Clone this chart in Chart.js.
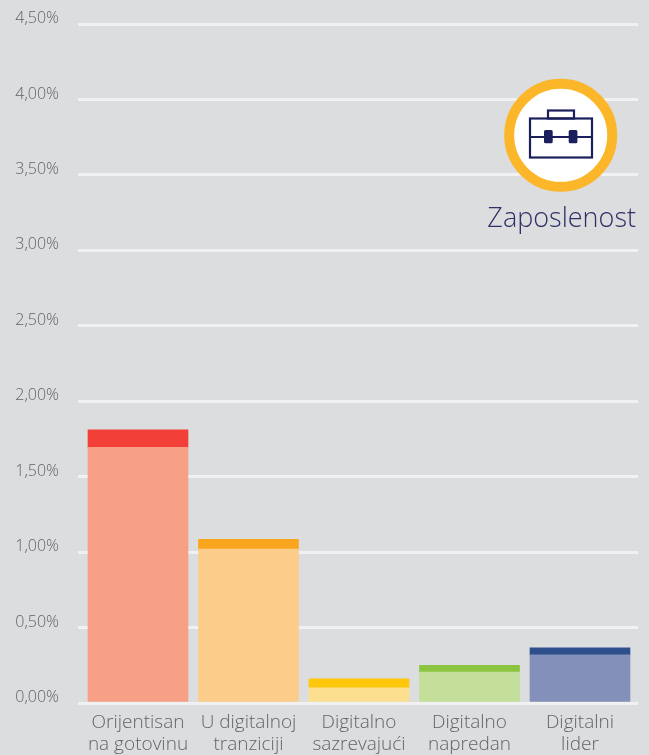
<!DOCTYPE html>
<html><head><meta charset="utf-8">
<style>html,body{margin:0;padding:0;background:#dcddde}canvas{display:block}</style>
<script src="https://cdn.jsdelivr.net/npm/chart.js@4"></script></head>
<body><div style="width:649px;height:755px"><canvas id="c"></canvas></div>
<script>
const categories=[["Orijentisan","na gotovinu"],["U digitalnoj","tranziciji"],["Digitalno","sazrevajući"],["Digitalno","napredan"],["Digitalni","lider"]];
const baseValues=[1.695,1.02,0.10,0.205,0.32];
const capValues=[0.115,0.065,0.06,0.045,0.045];
const baseColors=["#f7a085","#fccd8a","#fddf90","#c4df9a","#8390b9"];
const capColors=["#f23f37","#f9a51d","#fec70b","#8bc53f","#2d4f8b"];
const yTicks=[0,0.5,1,1.5,2,2.5,3,3.5,4,4.5];
const badgeTitle="Zaposlenost";
const FONT='"Open Sans"';
const noPad=s=>{s.paddingTop=0;s.paddingBottom=0;s.paddingLeft=0;s.paddingRight=0};
const badge={id:'badge',afterDraw(ch){const g=ch.ctx;g.save();
 const cx=560.7,cy=135.3;
 g.beginPath();g.arc(cx,cy,51.5,0,Math.PI*2);g.fillStyle='#fff';g.fill();g.lineWidth=10;g.strokeStyle='#fbb62a';g.stroke();
 g.strokeStyle='#1b1f5c';g.lineWidth=2.2;
 g.strokeRect(530,118.5,62,39);g.strokeRect(548,110.5,26,8);
 g.beginPath();g.moveTo(530,137);g.lineTo(592,137);g.stroke();
 g.fillStyle='#1b1f5c';
 g.beginPath();g.roundRect(544,130,8.7,13.3,1.5);g.roundRect(568.7,130,8.7,13.3,1.5);g.fill();
 g.fillStyle='#2e3068';g.font='300 27px '+FONT;g.textAlign='right';g.textBaseline='alphabetic';g.fillText(badgeTitle,636,226.5);
 g.restore();}};
new Chart(document.getElementById('c'),{type:'bar',
 data:{datasets:[
  {data:baseValues.map((y,x)=>({x,y})),backgroundColor:baseColors,barThickness:100,borderWidth:0},
  {data:capValues.map((y,x)=>({x,y})),backgroundColor:capColors,barThickness:100,borderWidth:0}]},
 options:{responsive:true,maintainAspectRatio:false,animation:false,
  layout:{autoPadding:false,padding:{top:24,right:11,left:0,bottom:0}},
  plugins:{legend:{display:false},tooltip:{enabled:false},title:{display:false}},
  scales:{
   x:{type:'linear',offset:false,stacked:true,min:-0.543,max:4.525,afterFit(s){s.height=52;noPad(s)},
     afterBuildTicks(s){s.ticks=categories.map((_,value)=>({value}))},
     grid:{display:false},border:{display:false},
     ticks:{autoSkip:false,maxRotation:0,padding:0,color:'#636466',font:{family:FONT,size:19,weight:'300',lineHeight:1.17},callback:v=>categories[v]}},
   y:{stacked:true,min:0,max:4.5,afterFit(s){s.width=78;noPad(s)},
     afterBuildTicks(s){s.ticks=yTicks.map(value=>({value}))},
     grid:{color:'#f1f1f2',lineWidth:3,drawTicks:false},border:{display:false},
     ticks:{padding:19,labelOffset:-5.5,color:'#636466',font:{family:FONT,size:16,weight:'300'},callback:v=>v.toFixed(2).replace('.',',')+'%'}}
  }},plugins:[badge]});
</script></body></html>
